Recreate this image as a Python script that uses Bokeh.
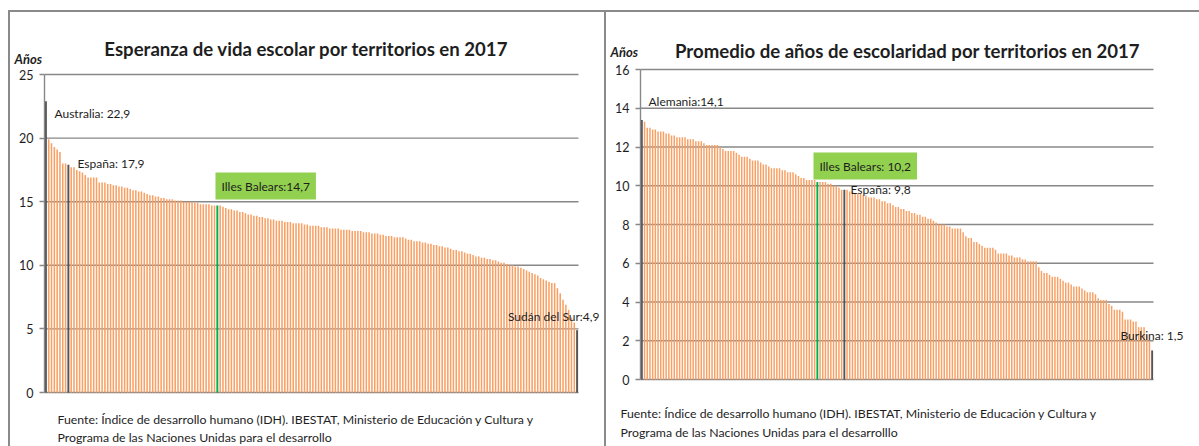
from bokeh.plotting import figure
from bokeh.models import Label, FixedTicker, Range1d, ColumnDataSource
from bokeh.layouts import row
from bokeh.embed import file_html
from bokeh.resources import INLINE

# ---------------- data ----------------
# Esperanza de vida escolar (años), territorios ordenados de mayor a menor
left_values = [
    22.9, 19.9, 19.6, 19.3, 19.1, 18.9, 18.0, 18.0, 17.9,
    17.7, 17.7, 17.5, 17.4, 17.3, 17.1, 16.9, 16.9, 16.9, 16.9, 16.5, 16.5,
    16.5, 16.4, 16.4, 16.3, 16.3, 16.2, 16.2, 16.1, 16.1, 16.0,
    15.9, 15.9, 15.8, 15.8, 15.7, 15.6, 15.5, 15.5, 15.4, 15.4,
    15.3, 15.3, 15.2, 15.2, 15.2, 15.1, 15.1, 15.1, 15.0, 15.0,
    15.0, 15.0, 14.9, 14.9, 14.8, 14.8, 14.8, 14.8, 14.7, 14.7,
    14.7,
    14.7, 14.6, 14.5, 14.4, 14.4, 14.3, 14.3, 14.2, 14.2,
    14.1, 14.0, 14.0, 13.9, 13.9, 13.8, 13.8, 13.7, 13.7, 13.6,
    13.6, 13.5, 13.5, 13.5, 13.4, 13.4, 13.4, 13.3, 13.3, 13.3, 13.3,
    13.2, 13.2, 13.1, 13.1, 13.1, 13.1, 13.0, 13.0, 13.0, 12.9, 12.9, 12.9,
    12.9, 12.8, 12.8, 12.8, 12.8, 12.7, 12.7, 12.7, 12.7, 12.6, 12.6, 12.6,
    12.5, 12.5, 12.5, 12.4, 12.4, 12.3, 12.3, 12.3, 12.2, 12.2, 12.2, 12.2,
    12.1, 12.0, 12.0, 11.9, 11.9, 11.9, 11.8, 11.8, 11.7, 11.7, 11.6, 11.6,
    11.5, 11.5, 11.4, 11.4, 11.3, 11.2, 11.2, 11.1, 11.1, 11.0, 10.9, 10.9,
    10.8, 10.7, 10.7, 10.6, 10.6, 10.5, 10.5, 10.4, 10.4, 10.3, 10.2, 10.2,
    10.1, 10.0, 10.0, 9.9, 9.9, 9.8, 9.7,
    9.6, 9.5, 9.4, 9.3, 9.2, 9.0,
    8.9, 8.8, 8.7, 8.6, 8.6,
    8.2, 7.8, 7.3, 6.9, 6.5, 5.9, 5.5, 4.9,
]
left_grey = {"Australia": 0, "España": 8, "Sudán del Sur": 189}
left_green = {"Illes Balears": 61}
left_ticks = [0, 5, 10, 15, 20, 25]

# Promedio de años de escolaridad, territorios ordenados de mayor a menor
right_values = [
    13.4, 13.3, 13.0, 13.0, 12.9, 12.9,
    12.8, 12.8, 12.8, 12.7,
    12.7, 12.6, 12.6,
    12.5, 12.5, 12.5, 12.5, 12.4, 12.4, 12.4, 12.3,
    12.3, 12.3, 12.2,
    12.1, 12.1, 12.1, 12.1, 12.1, 12.0,
    11.9, 11.8, 11.8,
    11.8, 11.8, 11.7, 11.6,
    11.5, 11.5, 11.5, 11.4, 11.3,
    11.3, 11.3, 11.2, 11.1,
    11.1, 11.0, 10.9,
    10.9, 10.9, 10.9, 10.8, 10.8,
    10.7, 10.7, 10.7, 10.6,
    10.5, 10.4, 10.4,
    10.3, 10.3, 10.3, 10.3,
    10.2,
    10.2, 10.2, 10.2, 10.1, 10.1,
    10.0, 10.0, 9.9, 9.8,
    9.8,
    9.8, 9.7, 9.7, 9.6, 9.6, 9.6, 9.5,
    9.5, 9.4, 9.4, 9.4, 9.3,
    9.3, 9.2, 9.2, 9.1,
    9.1, 9.0, 8.9, 8.9, 8.8,
    8.8, 8.7, 8.7, 8.6, 8.6, 8.5, 8.5, 8.4, 8.4, 8.3, 8.3, 8.2,
    8.1, 8.0, 8.0, 8.0, 7.9, 7.9,
    7.8, 7.8, 7.8, 7.8, 7.6,
    7.4, 7.3, 7.3,
    7.1, 7.1, 7.0, 6.9,
    6.8, 6.8, 6.8, 6.8, 6.7,
    6.5, 6.5, 6.5, 6.5, 6.4, 6.4,
    6.3, 6.3, 6.3, 6.2, 6.2,
    6.1, 6.1, 6.1, 6.1, 5.8,
    5.6, 5.5, 5.5, 5.4,
    5.3, 5.3, 5.3, 5.2, 5.1,
    5.0, 5.0, 4.9,
    4.8, 4.8, 4.8, 4.7,
    4.6, 4.5, 4.5, 4.5, 4.4,
    4.2, 4.1, 4.1, 4.1,
    3.9, 3.8,
    3.6, 3.6, 3.6, 3.5,
    3.1, 3.1, 3.1, 3.0, 3.0,
    2.7, 2.7, 2.7, 2.3, 2.0,
    1.5,
]
right_grey = {"Alemania": 0, "España": 75, "Burkina": 189}
right_green = {"Illes Balears": 65}
right_ticks = [0, 2, 4, 6, 8, 10, 12, 14, 16]

left_title = "Esperanza de vida escolar por territorios en 2017"
right_title = "Promedio de años de escolaridad por territorios en 2017"
y_label = "Años"
source_line1 = "Fuente: Índice de desarrollo humano (IDH). IBESTAT,  Ministerio de Educación y Cultura y"
left_source_line2 = "Programa de las Naciones Unidas para el desarrollo"
right_source_line2 = "Programa de las Naciones Unidas para el desarrolllo"

# ---------------- styles ----------------
FONT = "Lato"
ORANGE = "#F9A064"
GREY_BAR = "#555555"
GREEN_BAR = "#00B050"
GREEN_BOX = "#92D050"
GRID = "#888888"
TEXT = "#1E1E1E"
FRAME = "#8A8A8A"
PAGE_H = 446


def frame_bg(x0, y0):
    return ("linear-gradient({c},{c}) {x}px {y}px / 100% 2px no-repeat, "
            "linear-gradient({c},{c}) {x}px {y}px / 2px 100% no-repeat, #ffffff"
            ).format(c=FRAME, x=x0, y=y0)


class Panel:
    """One chart; the plotting frame covers the whole figure, the bar area
    (fl..fr, ft..fb in page pixels) is mapped through the figure's ranges."""

    def __init__(self, values, grey, green, ticks, ymax, page_left, width,
                 fl, fr, ft, fb, border_x):
        self.n = len(values)
        self.ymax = ymax
        self.fl, self.fr, self.ft, self.fb = fl, fr, ft, fb
        p = figure(width=width, height=PAGE_H, title=None,
                   x_range=Range1d(self.dx(page_left), self.dx(page_left + width)),
                   y_range=Range1d(self.dy(PAGE_H), self.dy(0)),
                   output_backend="svg", toolbar_location=None,
                   min_border=0, min_border_left=0, min_border_right=0,
                   min_border_top=0, min_border_bottom=0,
                   styles={"background": frame_bg(border_x, 10)})
        p.border_fill_color = None
        p.background_fill_color = None
        p.outline_line_color = None
        p.xaxis.visible = False
        p.xgrid.visible = False
        p.ygrid.visible = False

        ax = p.yaxis[0]
        ax.fixed_location = -0.5
        ax.bounds = (0, ymax)
        ax.ticker = FixedTicker(ticks=ticks)
        ax.axis_line_color = GRID
        ax.axis_line_width = 1.4
        ax.major_tick_line_color = GRID
        ax.major_tick_line_width = 1.4
        ax.major_tick_out = 5
        ax.major_tick_in = 0
        ax.minor_tick_line_color = None
        ax.major_label_text_font = FONT
        ax.major_label_text_font_size = "12.5px"
        ax.major_label_text_color = TEXT
        ax.major_label_standoff = 6

        # horizontal grid lines over the bar area, at the tick values
        p.segment(x0=[-0.5] * len(ticks), x1=[self.n - 0.5] * len(ticks),
                  y0=ticks, y1=ticks, line_color=GRID, line_width=1.4)

        xs = list(range(self.n))
        colors = [ORANGE] * self.n
        widths = [0.55] * self.n
        for i in grey.values():
            colors[i] = GREY_BAR
            widths[i] = 0.7
        for i in green.values():
            colors[i] = GREEN_BAR
            widths[i] = 0.7
        src = ColumnDataSource(dict(x=xs, top=values, color=colors, w=widths))
        p.vbar(x="x", top="top", width="w", bottom=0, source=src,
               fill_color="color", line_color=None)
        self.p = p

    def dx(self, px):
        return -0.5 + (px - self.fl) / (self.fr - self.fl) * self.n

    def dy(self, py):
        return (self.fb - py) / (self.fb - self.ft) * self.ymax

    def text(self, px, py, txt, size="12px", align="left", style="normal",
             color=TEXT, baseline="alphabetic"):
        self.p.add_layout(Label(x=self.dx(px), y=self.dy(py), text=txt,
                                text_font=FONT, text_font_size=size,
                                text_align=align, text_baseline=baseline,
                                text_font_style=style, text_color=color))

    def box(self, px, py, txt, size="12px"):
        # px, py: top-left corner of the green box
        self.p.add_layout(Label(x=self.dx(px), y=self.dy(py), text=txt,
                                text_font=FONT, text_font_size=size,
                                text_align="left", text_baseline="top",
                                text_color=TEXT, background_fill_color=GREEN_BOX,
                                padding=6))


# ---------------- left panel ----------------
L = Panel(left_values, left_grey, left_green, left_ticks, 25,
          page_left=0, width=604, fl=44, fr=578, ft=74, fb=392, border_x=8)
L.text(306, 48, left_title, size="18.6px", align="center", style="bold")
L.text(14, 58, y_label, size="13px", style="bold italic")
L.text(54, 113, "Australia: 22,9")
L.text(77, 163, "España: 17,9")
L.box(215, 172, "Illes Balears:14,7")
L.text(599, 316, "Sudán del Sur:4,9", align="right")
L.text(57, 419, source_line1, size="12.3px")
L.text(57, 437, left_source_line2, size="12.3px")

# ---------------- right panel ----------------
R = Panel(right_values, right_grey, right_green, right_ticks, 16,
          page_left=604, width=595, fl=640, fr=1153, ft=69, fb=379, border_x=0)
R.text(907, 50, right_title, size="18.6px", align="center", style="bold")
R.text(610, 51, y_label, size="13px", style="bold italic")
R.text(648, 101, "Alemania:14,1")
R.box(813, 152, "Illes Balears: 10,2")
R.text(850, 189, "España: 9,8")
R.text(1183, 335, "Burkina: 1,5", align="right")
R.text(620, 413, source_line1, size="12.3px")
R.text(620, 432, right_source_line2, size="12.3px")

layout = row(L.p, R.p, spacing=0)
open("out.html", "w").write(file_html(layout, INLINE))
